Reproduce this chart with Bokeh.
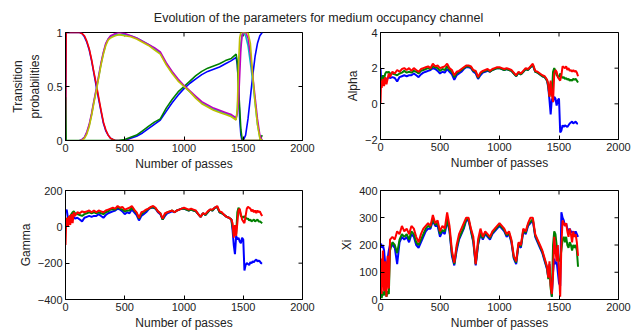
import numpy as np
from bokeh.plotting import figure
from bokeh.models import Range1d, FixedTicker, Label
from bokeh.layouts import column, row
from bokeh.embed import file_html
from bokeh.resources import INLINE

FONT = "Liberation Sans"
TXT = "#222222"
nan = np.nan

title_text = "Evolution of the parameters for medium occupancy channel"
x_label = "Number of passes"
x_ticks = [0, 500, 1000, 1500, 2000]

# ---------------- transition probabilities ----------------
tx = [0, 5, 120, 140, 160, 180, 200, 220, 240, 260,
      280, 300, 320, 340, 360, 380, 400, 420, 450, 500,
      550, 600, 650, 700, 750, 800, 850, 900, 950, 1000,
      1050, 1100, 1150, 1200, 1250, 1300, 1350, 1400, 1440, 1450,
      1460, 1470, 1480, 1490, 1500, 1520, 1540, 1560, 1580, 1600,
      1620, 1640, 1660]
trans_blue = [0, 1, 1, 0.99, 0.96, 0.91, 0.84, 0.74, 0.62, 0.5,
              0.38, 0.27, 0.16, 0.09, 0.05, 0.02, 0.01, 0, 0, 0,
              0.02, 0.04, 0.07, 0.11, 0.15, 0.19, 0.27, 0.35, 0.42, 0.48,
              0.53, 0.57, 0.61, 0.64, 0.66, 0.68, 0.71, 0.74, 0.77, 0.7,
              0.5, 0.2, 0.05, 0, 0, 0.05, 0.2, 0.4, 0.6, 0.78,
              0.9, 0.97, 1.0]
trans_red = [0, 1, 1, 0.99, 0.97, 0.92, 0.85, 0.75, 0.63, 0.52,
             0.4, 0.28, 0.17, 0.1, 0.05, 0.02, 0.01, 0, 0, 0,
             0, 0, 0, 0, 0, 0, 0, 0, 0, 0,
             0, 0, 0, 0, 0, 0, 0, 0, 0, 0,
             0, 0, 0, 0, 0, 0, 0, 0, 0, 0,
             0, 0, 0]
trans_green = [0.4, 0, 0, 0, 0, 0, 0, 0, 0, 0,
               0, 0, 0, 0, 0, 0, 0, 0, 0, 0.01,
               0.03, 0.05, 0.09, 0.13, 0.17, 0.2, 0.3, 0.38, 0.45, 0.5,
               0.55, 0.6, 0.64, 0.67, 0.69, 0.71, 0.74, 0.76, 0.8, 0.72,
               0.5, 0.3, 0.1, 0.02, 0, 0, 0, 0, 0, 0,
               0, 0, 0.05]
trans_cyan = [nan, nan, 0, 0.01, 0.03, 0.07, 0.14, 0.24, 0.36, 0.47,
              0.59, 0.71, 0.81, 0.89, 0.94, 0.96, 0.97, 0.98, 0.98, 0.98,
              0.97, 0.95, 0.92, 0.89, 0.85, 0.81, 0.71, 0.63, 0.56, 0.5,
              0.45, 0.4, 0.35, 0.32, 0.29, 0.27, 0.25, 0.23, 0.2, 0.28,
              0.5, 0.75, 0.9, 0.98, 1.0, 0.97, 0.88, 0.72, 0.55, 0.35,
              0.15, 0.03, 0]
trans_magenta = [nan, nan, 0, 0.01, 0.03, 0.08, 0.15, 0.25, 0.37, 0.48,
                 0.6, 0.72, 0.82, 0.9, 0.94, 0.97, 0.98, 0.99, 1.0, 0.99,
                 0.97, 0.95, 0.92, 0.89, 0.86, 0.82, 0.72, 0.64, 0.57, 0.51,
                 0.46, 0.41, 0.36, 0.33, 0.3, 0.28, 0.26, 0.24, 0.21, 0.25,
                 0.35, 0.6, 0.85, 0.97, 1.0, 1.0, 0.95, 0.8, 0.6, 0.4,
                 0.2, 0.05, 0]
trans_yellow = [nan, nan, 0, 0.0, 0.02, 0.06, 0.13, 0.23, 0.35, 0.46,
                0.58, 0.7, 0.8, 0.88, 0.93, 0.95, 0.96, 0.97, 0.98, 0.97,
                0.96, 0.94, 0.91, 0.88, 0.84, 0.8, 0.7, 0.62, 0.55, 0.5,
                0.45, 0.39, 0.34, 0.31, 0.28, 0.26, 0.24, 0.22, 0.19, 0.3,
                0.7, 0.95, 1.0, 1.0, 1.0, 1.0, 1.0, 0.9, 0.6, 0.35,
                0.15, 0.02, 0]

# ---------------- parameter traces ----------------
passes = [0, 5, 10, 20, 30, 40, 50, 60, 70, 80,
          100, 120, 140, 160, 180, 200, 220, 240, 260, 280,
          300, 320, 340, 360, 380, 400, 420, 440, 460, 480,
          500, 520, 540, 560, 580, 600, 620, 640, 660, 680,
          700, 720, 740, 760, 780, 800, 820, 840, 860, 880,
          900, 920, 940, 960, 980, 1000, 1020, 1040, 1060, 1080,
          1100, 1120, 1140, 1160, 1180, 1200, 1220, 1240, 1260, 1280,
          1300, 1320, 1340, 1360, 1380, 1400,
          1410, 1420, 1430, 1440, 1450, 1460, 1470, 1480, 1490, 1500,
          1510, 1520, 1530, 1540, 1550, 1560, 1570, 1580, 1590, 1600,
          1610, 1620, 1630, 1640, 1650, 1660]

alpha_blue = [2.0, 1.3, 1.6, 1.2, 1.5, 1.4, 1.3, 1.45, 1.5, 1.45,
              1.5, 1.45, 1.25, 1.5, 1.55, 1.6, 1.55, 1.6, 1.6, 1.7,
              1.6, 1.5, 1.65, 1.75, 1.8, 1.85, 1.9, 2.0, 1.95, 1.85,
              1.7, 1.8, 1.75, 1.95, 1.8, 1.65, 1.35, 1.6, 1.7, 1.8,
              1.95, 2.05, 2.05, 2.0, 1.8, 1.7, 1.4, 1.6, 1.75, 1.8,
              1.85, 1.8, 1.9, 1.95, 2.0, 2.0, 1.95, 1.9, 1.95, 1.9,
              1.85, 1.7, 1.55, 1.75, 1.65, 1.8, 1.95, 1.9, 2.05, 2.15,
              1.8, 1.75, 1.65, 1.55, 1.5, 1.3,
              0.9, 0.2, -0.6, 0.3, 0.1, 0.4, 0.3, -0.1, 0.2, 0.3,
              -1.6, -1.5, -1.2, -1.3, -1.2, -1.25, -1.3, -1.2, -1.1, -1.05,
              -1.0, -1.1, -1.05, -1.0, -1.1, -1.1]
alpha_green = [1.2, 1.5, 1.3, 1.6, 1.4, 1.7, 1.8, 1.75, 1.8, 1.7,
               1.7, 1.65, 1.6, 1.7, 1.75, 1.85, 1.75, 1.8, 1.75, 1.85,
               1.8, 1.7, 1.85, 1.9, 1.95, 2.0, 1.95, 2.1, 2.05, 2.0,
               1.85, 1.95, 1.9, 2.1, 1.9, 1.8, 1.5, 1.7, 1.8, 1.9,
               2.0, 2.1, 2.1, 2.05, 1.85, 1.8, 1.45, 1.7, 1.8, 1.85,
               1.9, 1.8, 1.9, 1.95, 2.0, 2.0, 1.95, 1.9, 1.95, 1.9,
               1.85, 1.7, 1.55, 1.75, 1.65, 1.8, 1.95, 1.9, 2.05, 2.2,
               1.8, 1.75, 1.65, 1.55, 1.5, 1.3,
               1.0, 0.4, 1.2, 0.5, 1.8, 2.0, 1.85, 1.6, 1.55, 1.5,
               1.7, 1.55, 1.45, 1.5, 1.4, 1.45, 1.35, 1.4, 1.3, 1.35,
               1.3, 1.4, 1.35, 1.4, 1.3, 1.2]
alpha_red = [0.0, 1.3, 0.9, 1.4, 1.0, 1.5, 1.1, 1.4, 1.7, 1.5,
             1.8, 1.7, 1.9, 1.8, 1.95, 2.0, 1.9, 2.0, 1.85, 2.0,
             1.9, 1.8, 1.95, 2.0, 2.05, 2.1, 2.0, 2.25, 2.1, 2.15,
             2.0, 2.05, 2.1, 2.25, 2.0, 1.9, 1.6, 1.8, 1.85, 1.95,
             2.05, 2.15, 2.15, 2.1, 1.9, 1.85, 1.5, 1.75, 1.85, 1.9,
             1.95, 1.85, 1.95, 2.0, 2.05, 2.05, 2.0, 1.95, 2.0, 1.95,
             1.9, 1.75, 1.6, 1.8, 1.7, 1.85, 2.0, 1.95, 2.1, 2.25,
             1.85, 1.8, 1.7, 1.6, 1.55, 1.35,
             1.1, 0.4, 1.3, 0.5, 0.1, 1.7, 1.9, 1.8, 1.5, 1.4,
             1.3, 1.6, 2.1, 2.05, 2.0, 2.1, 1.9, 2.0, 1.85, 1.9,
             1.8, 1.9, 1.8, 1.85, 1.75, 1.55]

gamma_blue = [90, 80, 95, 50, 40, 60, 45, 50, 55, 45,
              50, 40, 30, 50, 55, 60, 55, 60, 60, 70,
              60, 50, 65, 75, 80, 85, 90, 100, 95, 85,
              70, 80, 75, 95, 80, 65, 35, 60, 70, 80,
              95, 105, 105, 100, 80, 70, 40, 60, 75, 80,
              85, 80, 90, 95, 100, 100, 95, 90, 95, 90,
              85, 70, 55, 75, 65, 80, 95, 90, 105, 110,
              80, 75, 65, 55, 50, 40,
              -20, -100, -150, -50, -70, -60, -80, -90, -60, -70,
              -240, -210, -200, -205, -210, -195, -200, -190, -195, -185,
              -180, -190, -185, -190, -200, -200]
gamma_green = [20, 40, 30, 50, 45, 60, 70, 80, 85, 75,
               70, 65, 60, 70, 75, 80, 75, 80, 75, 80,
               75, 70, 80, 85, 95, 95, 95, 110, 100, 95,
               85, 90, 90, 105, 90, 75, 45, 70, 80, 90,
               100, 105, 110, 100, 85, 75, 40, 70, 80, 85,
               90, 80, 90, 95, 100, 100, 95, 90, 95, 90,
               85, 70, 55, 75, 65, 80, 95, 90, 105, 110,
               80, 75, 65, 55, 50, 40,
               0, -50, 0, -40, 80, 105, 90, 60, 55, 50,
               60, 50, 45, 45, 35, 40, 30, 35, 40, 30,
               35, 40, 30, 30, 25, 20]
gamma_red = [-100, 10, 50, 0, 60, 10, 70, 20, 80, 60,
             80, 75, 85, 80, 85, 90, 80, 90, 80, 90,
             85, 80, 90, 95, 100, 105, 100, 115, 105, 110,
             95, 100, 105, 115, 95, 80, 50, 80, 85, 95,
             100, 110, 115, 105, 85, 75, 45, 75, 80, 85,
             90, 80, 90, 95, 100, 105, 100, 95, 100, 95,
             90, 70, 55, 75, 70, 85, 95, 95, 105, 115,
             85, 80, 65, 55, 50, 40,
             20, -60, 10, -50, 20, 90, 100, 70, 40, 30,
             20, 60, 100, 110, 105, 100, 85, 95, 80, 90,
             75, 90, 80, 85, 70, 60]

xi_blue = [200, 205, 190, 200, 180, 130, 120, 150, 180, 200,
           200, 190, 130, 210, 230, 220, 230, 210, 240, 230,
           200, 190, 210, 230, 250, 260, 260, 290, 270, 270,
           230, 250, 240, 290, 250, 160, 125, 180, 220, 240,
           260, 290, 290, 250, 210, 125, 200, 240, 220, 240,
           230, 220, 240, 250, 260, 270, 260, 250, 230, 240,
           210, 150, 130, 200, 190, 250, 240, 270, 280, 290,
           230, 210, 190, 170, 140, 110,
           80, 130, 60, 10, 100, 150, 130, 140, 100, 60,
           50, 320, 300, 290, 270, 280, 260, 250, 260, 250,
           245, 250, 240, 250, 240, 230]
xi_green = [10, 20, 5, 30, 15, 40, 10, 30, 20, 180,
            210, 200, 170, 220, 240, 230, 240, 220, 250, 240,
            210, 200, 220, 240, 260, 270, 265, 295, 275, 280,
            240, 255, 250, 295, 255, 170, 130, 190, 225, 245,
            265, 295, 295, 255, 215, 130, 205, 245, 225, 245,
            235, 225, 245, 255, 265, 275, 265, 255, 235, 245,
            215, 155, 135, 205, 195, 255, 245, 275, 285, 295,
            235, 215, 195, 175, 145, 115,
            75, 120, 40, 10, 200, 250, 240, 200, 150, 140,
            150, 180, 220, 230, 210, 230, 200, 190, 210, 200,
            180, 200, 190, 200, 180, 120]
xi_red = [50, 150, 20, 180, 30, 140, 10, 160, 40, 220,
          230, 220, 250, 240, 270, 250, 260, 240, 270, 260,
          230, 210, 240, 260, 270, 280, 270, 310, 280, 290,
          250, 270, 260, 320, 270, 180, 135, 200, 240, 260,
          280, 300, 300, 260, 230, 130, 220, 260, 230, 250,
          240, 230, 250, 260, 270, 280, 270, 260, 240, 250,
          220, 160, 140, 210, 200, 260, 250, 280, 300, 300,
          240, 220, 200, 180, 150, 120,
          80, 140, 50, 20, 90, 230, 180, 140, 200, 100,
          10, 200, 290, 280, 270, 280, 250, 230, 260, 240,
          210, 250, 230, 240, 210, 160]

C_BLUE, C_GREEN, C_RED = "#0000ff", "#008000", "#ff0000"
C_CYAN, C_MAGENTA, C_YELLOW = "#00bfbf", "#bf00bf", "#bfbf00"


def style_axis(ax, ticks):
    ax.ticker = FixedTicker(ticks=ticks)
    ax.major_tick_in = 4
    ax.major_tick_out = 0
    ax.minor_tick_in = 0
    ax.minor_tick_out = 0
    ax.axis_line_color = "black"
    ax.major_tick_line_color = "black"
    ax.major_label_text_font = FONT
    ax.major_label_text_color = TXT
    ax.major_label_text_font_size = "11px"
    ax.major_label_standoff = 3
    ax.axis_label_text_font = FONT
    ax.axis_label_text_font_style = "normal"
    ax.axis_label_text_color = TXT
    ax.axis_label_text_font_size = "12px"
    ax.axis_label_standoff = 2


def make_fig(yr, yticks, ylabel, fw, fh, bl, br, bt, bb):
    p = figure(frame_width=fw, frame_height=fh,
               x_range=Range1d(0, 2000), y_range=Range1d(*yr),
               toolbar_location=None, output_backend="svg",
               min_border_left=bl, min_border_right=br,
               min_border_top=bt, min_border_bottom=bb)
    p.grid.visible = False
    p.outline_line_color = "black"
    p.outline_line_width = 1
    p.background_fill_color = "white"
    p.border_fill_color = "white"
    style_axis(p.xaxis[0], x_ticks)
    style_axis(p.yaxis[0], yticks)
    p.xaxis[0].axis_label = x_label
    p.yaxis[0].axis_label = ylabel
    # inward tick marks on the top and right edges (half of each dash is clipped)
    p.scatter(x=x_ticks, y=[yr[1]] * len(x_ticks), marker="dash", size=8,
              angle=np.pi / 2, line_color="black", line_width=1)
    p.scatter(x=[2000] * len(yticks), y=yticks, marker="dash", size=8,
              line_color="black", line_width=1)
    return p


# title strip
pt = figure(width=634, height=25, x_range=Range1d(0, 634), y_range=Range1d(0, 25),
            toolbar_location=None, output_backend="svg", min_border=0,
            x_axis_location=None, y_axis_location=None)
pt.grid.visible = False
pt.outline_line_color = None
pt.add_layout(Label(x=318, y=8, text=title_text, text_align="center",
                    text_baseline="middle", text_font=FONT, text_font_size="12.5px",
                    text_color=TXT))

# top-left: transition probabilities
p1 = make_fig((0, 1), [0, 0.5, 1], "Transition\nprobabilities", 237, 108, 65, 28, 6, 31)
p1.line(tx, trans_blue, color=C_BLUE, line_width=1.6)
p1.line(tx, trans_red, color=C_RED, line_width=1.6)
p1.line(tx, trans_green, color=C_GREEN, line_width=1.6)
p1.line(tx, trans_cyan, color=C_CYAN, line_width=1.6)
p1.line(tx, trans_magenta, color=C_MAGENTA, line_width=1.6)
p1.line(tx, trans_yellow, color=C_YELLOW, line_width=1.6)

# top-right: alpha
p2 = make_fig((-2, 4), [-2, 0, 2, 4], "Alpha", 238, 107, 50, 16, 7, 31)
p2.line(passes, alpha_blue, color=C_BLUE, line_width=2)
p2.line(passes, alpha_green, color=C_GREEN, line_width=2)
p2.line(passes, alpha_red, color=C_RED, line_width=2)

# bottom-left: gamma
p3 = make_fig((-400, 200), [-400, -200, 0, 200], "Gamma", 237, 109, 65, 28, 18, 36)
p3.line(passes, gamma_blue, color=C_BLUE, line_width=2)
p3.line(passes, gamma_green, color=C_GREEN, line_width=2)
p3.line(passes, gamma_red, color=C_RED, line_width=2)

# bottom-right: xi
p4 = make_fig((0, 400), [0, 100, 200, 300, 400], "Xi", 238, 109, 50, 16, 18, 36)
p4.line(passes, xi_blue, color=C_BLUE, line_width=2)
p4.line(passes, xi_green, color=C_GREEN, line_width=2)
p4.line(passes, xi_red, color=C_RED, line_width=2)

layout = column(pt, row(p1, p2), row(p3, p4))
open("out.html", "w").write(file_html(layout, INLINE))
